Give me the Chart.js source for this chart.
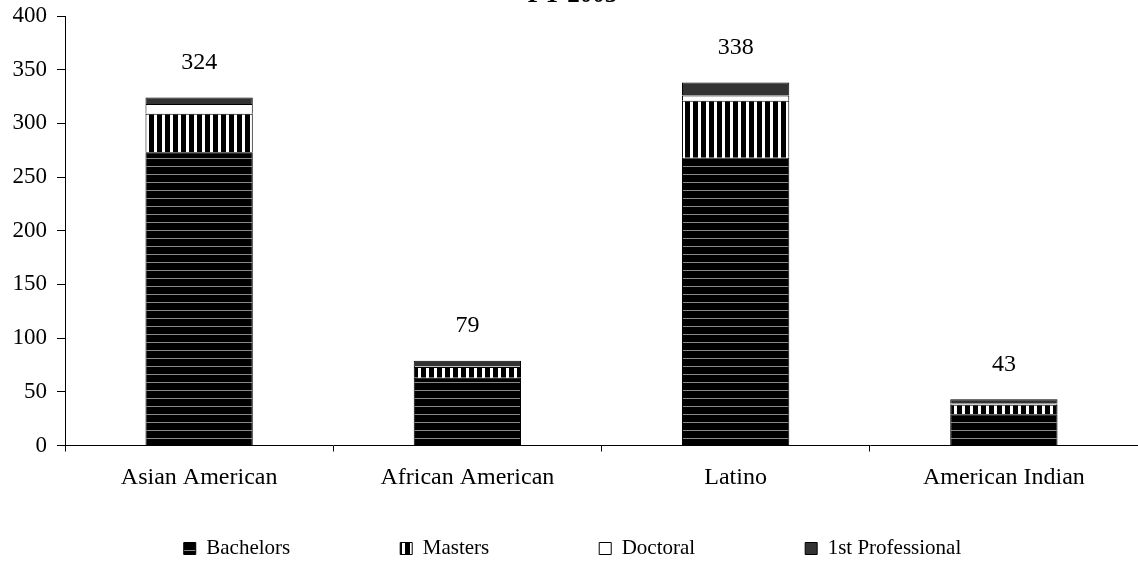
<!DOCTYPE html>
<html>
<head>
  <meta charset="UTF-8">
  <title>Degrees FY 2005</title>
  <script src="https://cdn.jsdelivr.net/npm/chart.js"></script>
  <style>
    body {
      margin: 0;
      background: #fff;
      overflow: hidden;
    }
  </style>
</head>
<body>
  <canvas id="degreesChart" width="1138" height="567"></canvas>

  <script>
    // values
    const chartTitle = "FY 2005";
    const groups = ["Asian American", "African American", "Latino", "American Indian"];
    const bachelors = [273, 63, 268, 29];
    const masters = [36, 10, 53, 9];
    const doctoral = [9, 1, 5, 1];
    const firstProfessional = [6, 5, 12, 4];
    const yMax = 400;
    const yStep = 50;

    const totals = groups.map((g, i) => bachelors[i] + masters[i] + doctoral[i] + firstProfessional[i]);

    const serif = "'Liberation Serif', 'Times New Roman', serif";
    Chart.defaults.font.family = serif;
    Chart.defaults.color = '#000';

    // small repeating tiles for the Excel-like hatch fills
    function makePattern(w, h, paint) {
      const c = document.createElement('canvas');
      c.width = w;
      c.height = h;
      const g = c.getContext('2d');
      paint(g);
      return g.createPattern(c, 'repeat');
    }

    const horizLines = makePattern(8, 8, g => {
      g.fillStyle = '#000';
      g.fillRect(0, 0, 8, 8);
      g.fillStyle = '#8a8a8a';
      g.fillRect(0, 6, 8, 1);
    });

    const vertStripes = makePattern(8, 8, g => {
      g.fillStyle = '#000';
      g.fillRect(0, 0, 8, 8);
      g.fillStyle = '#fff';
      g.fillRect(2, 0, 3, 8);
    });

    const totalLabels = {
      id: 'totalLabels',
      afterDatasetsDraw(chart) {
        const { ctx, scales: { x, y } } = chart;
        ctx.save();
        ctx.font = '24px ' + serif;
        ctx.fillStyle = '#000';
        ctx.textAlign = 'center';
        ctx.textBaseline = 'middle';
        totals.forEach((t, i) => {
          ctx.fillText(String(t), x.getPixelForValue(i), y.getPixelForValue(t) - 35);
        });
        ctx.restore();
      }
    };

    const legendGap = 110;
    const common = { borderColor: '#000', borderWidth: 1, barPercentage: 0.4, categoryPercentage: 1 };

    const ctx = document.getElementById('degreesChart').getContext('2d');
    new Chart(ctx, {
      type: 'bar',
      data: {
        labels: groups,
        datasets: [
          { label: 'Bachelors', data: bachelors, backgroundColor: horizLines, ...common },
          { label: 'Masters', data: masters, backgroundColor: vertStripes, ...common },
          { label: 'Doctoral', data: doctoral, backgroundColor: '#fff', ...common },
          { label: '1st Professional', data: firstProfessional, backgroundColor: '#333', ...common }
        ]
      },
      options: {
        responsive: false,
        animation: false,
        layout: {
          padding: { top: -19, right: -7, left: 0, bottom: -2 }
        },
        plugins: {
          title: {
            display: true,
            text: chartTitle,
            font: { size: 25, weight: 'bold' },
            padding: { top: 0, bottom: 5 }
          },
          legend: {
            position: 'bottom',
            // empty title with negative padding cancels the vertical part of the wide item gap
            title: { display: true, text: '', font: { size: 10 }, padding: { top: -legendGap, bottom: 0 } },
            labels: {
              padding: legendGap,
              boxWidth: 12,
              boxHeight: 12,
              font: { size: 21 }
            }
          },
          tooltip: { enabled: false }
        },
        scales: {
          x: {
            stacked: true,
            afterFit: s => { s.height = 80.5; },
            grid: { display: true, offset: true, drawOnChartArea: false, drawTicks: true, tickLength: 6, color: '#000' },
            border: { display: true, color: '#000', width: 1 },
            ticks: { padding: 12, font: { size: 24 }, maxRotation: 0, autoSkip: false }
          },
          y: {
            stacked: true,
            min: 0,
            max: yMax,
            afterFit: s => {
              s.width = 65;
              s.paddingTop = 0;
              s.paddingBottom = 0;
            },
            grid: { display: true, drawOnChartArea: false, drawTicks: true, tickLength: 8, color: '#000' },
            border: { display: true, color: '#000', width: 1 },
            ticks: { stepSize: yStep, padding: 10, font: { size: 23 } }
          }
        }
      },
      plugins: [totalLabels]
    });
  </script>
</body>
</html>
